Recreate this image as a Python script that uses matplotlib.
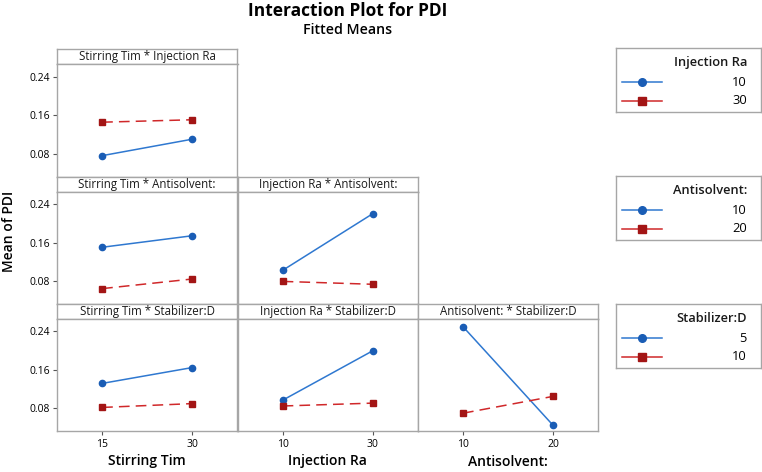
import matplotlib
matplotlib.use("Agg")
import matplotlib.pyplot as plt

plt.rcParams['font.family'] = ['Open Sans', 'DejaVu Sans']

# ---- data ----
factor_names = ["Stirring Tim", "Injection Ra", "Antisolvent:", "Stabilizer:D"]
stirring_levels = [15, 30]
injection_levels = [10, 30]
antisolvent_levels = [10, 20]
stabilizer_levels = [5, 10]

# means: [trace level 1 values, trace level 2 values] along x-factor levels
stir_x_inj = [[0.077, 0.111], [0.146, 0.151]]
stir_x_anti = [[0.151, 0.175], [0.065, 0.085]]
inj_x_anti = [[0.103, 0.221], [0.080, 0.074]]
stir_x_stab = [[0.132, 0.165], [0.082, 0.090]]
inj_x_stab = [[0.097, 0.200], [0.085, 0.091]]
anti_x_stab = [[0.250, 0.045], [0.070, 0.105]]

y_ticks = [0.08, 0.16, 0.24]

# ---- layout helpers ----
W, H = 762, 472
fig = plt.figure(figsize=(W / 100, H / 100), dpi=100)


def rect(x0, y0, x1, y1):
    return [x0 / W, 1 - y1 / H, (x1 - x0) / W, (y1 - y0) / H]


GREY = "#a6a6a6"
BLUE_L = "#2f78d0"
BLUE_M = "#1a5db5"
RED_L = "#d0282a"
RED_M = "#a31515"

col_x = [57, 237.5, 418, 598]
strip_top = [49, 177, 304]
panel_bot = [177, 304, 431]
strip_h = 14.5

levels = [stirring_levels, injection_levels, antisolvent_levels, stabilizer_levels]

panels = {
    (0, 0): (0, 1, stir_x_inj),
    (1, 0): (0, 2, stir_x_anti),
    (1, 1): (1, 2, inj_x_anti),
    (2, 0): (0, 3, stir_x_stab),
    (2, 1): (1, 3, inj_x_stab),
    (2, 2): (2, 3, anti_x_stab),
}

for (r, c), (fx, ft, vals) in panels.items():
    x0, x1 = col_x[c], col_x[c + 1]
    st = strip_top[r]
    # strip
    sax = fig.add_axes(rect(x0, st, x1, st + strip_h))
    sax.set_xticks([]); sax.set_yticks([])
    for s in sax.spines.values():
        s.set_color(GREY); s.set_linewidth(1.0)
    sax.text(0.5, 0.45, f"{factor_names[fx]} * {factor_names[ft]}",
             ha="center", va="center", fontsize=8.3, color="#1a1a1a",
             transform=sax.transAxes)
    # panel
    ax = fig.add_axes(rect(x0, st + strip_h, x1, panel_bot[r]))
    for s in ax.spines.values():
        s.set_color(GREY); s.set_linewidth(1.0)
    xl = levels[fx]
    span = xl[1] - xl[0]
    ax.set_xlim(xl[0] - span / 2, xl[1] + span / 2)
    ax.set_ylim(0.033, 0.267)
    ax.plot(xl, vals[0], color=BLUE_L, lw=1.1, marker="o", ms=4.5,
            mfc=BLUE_M, mec=BLUE_M, zorder=3)
    ax.plot(xl, vals[1], color=RED_L, lw=1.1, ls=(0, (7, 4)), marker="s",
            ms=5, mfc=RED_M, mec=RED_M, zorder=3)
    ax.set_yticks(y_ticks)
    if c == 0:
        ax.set_yticklabels([f"{v:.2f}" for v in y_ticks], fontsize=7.5)
        ax.tick_params(axis="y", length=3, color="#555555", pad=2)
    else:
        ax.tick_params(axis="y", length=0, labelleft=False)
    ax.set_xticks(xl)
    if r == 2:
        ax.set_xticklabels([str(v) for v in xl], fontsize=7.5)
        ax.tick_params(axis="x", length=3, color="#555555", pad=3)
        ax.set_xlabel(factor_names[fx], fontsize=10, fontweight="semibold",
                      labelpad=3)
    else:
        ax.tick_params(axis="x", length=0, labelbottom=False)

# ---- legends ----
legend_specs = [
    (factor_names[1], injection_levels, 48),
    (factor_names[2], antisolvent_levels, 176),
    (factor_names[3], stabilizer_levels, 304),
]
for title, lv, top in legend_specs:
    lax = fig.add_axes(rect(616, top, 761, top + 64))
    lax.set_xlim(616, 761); lax.set_ylim(top + 64, top)
    lax.set_xticks([]); lax.set_yticks([])
    for s in lax.spines.values():
        s.set_color(GREY); s.set_linewidth(1.0)
    lax.text(747, top + 14, title, ha="right", va="center", fontsize=9.3,
             fontweight="semibold", color="#1a1a1a")
    lax.plot([622, 662], [top + 34, top + 34], color=BLUE_L, lw=1.1)
    lax.plot([642], [top + 34], marker="o", ms=5.5, mfc=BLUE_M, mec=BLUE_M)
    lax.plot([622, 662], [top + 53, top + 53], color=RED_L, lw=1.1)
    lax.plot([642], [top + 53], marker="s", ms=6, mfc=RED_M, mec=RED_M)
    lax.text(747, top + 34, str(lv[0]), ha="right", va="center", fontsize=9.3)
    lax.text(747, top + 53, str(lv[1]), ha="right", va="center", fontsize=9.3)

# ---- titles ----
fig.text(348 / W, 1 - 11 / H, "Interaction Plot for PDI", ha="center",
         va="center", fontsize=12.5, fontweight="bold")
fig.text(348 / W, 1 - 30 / H, "Fitted Means", ha="center", va="center",
         fontsize=10.2, fontweight="semibold")
fig.text(9 / W, 1 - 231 / H, "Mean of PDI", ha="center", va="center",
         rotation=90, fontsize=10, fontweight="semibold")

fig.savefig("out.png", dpi=100)
